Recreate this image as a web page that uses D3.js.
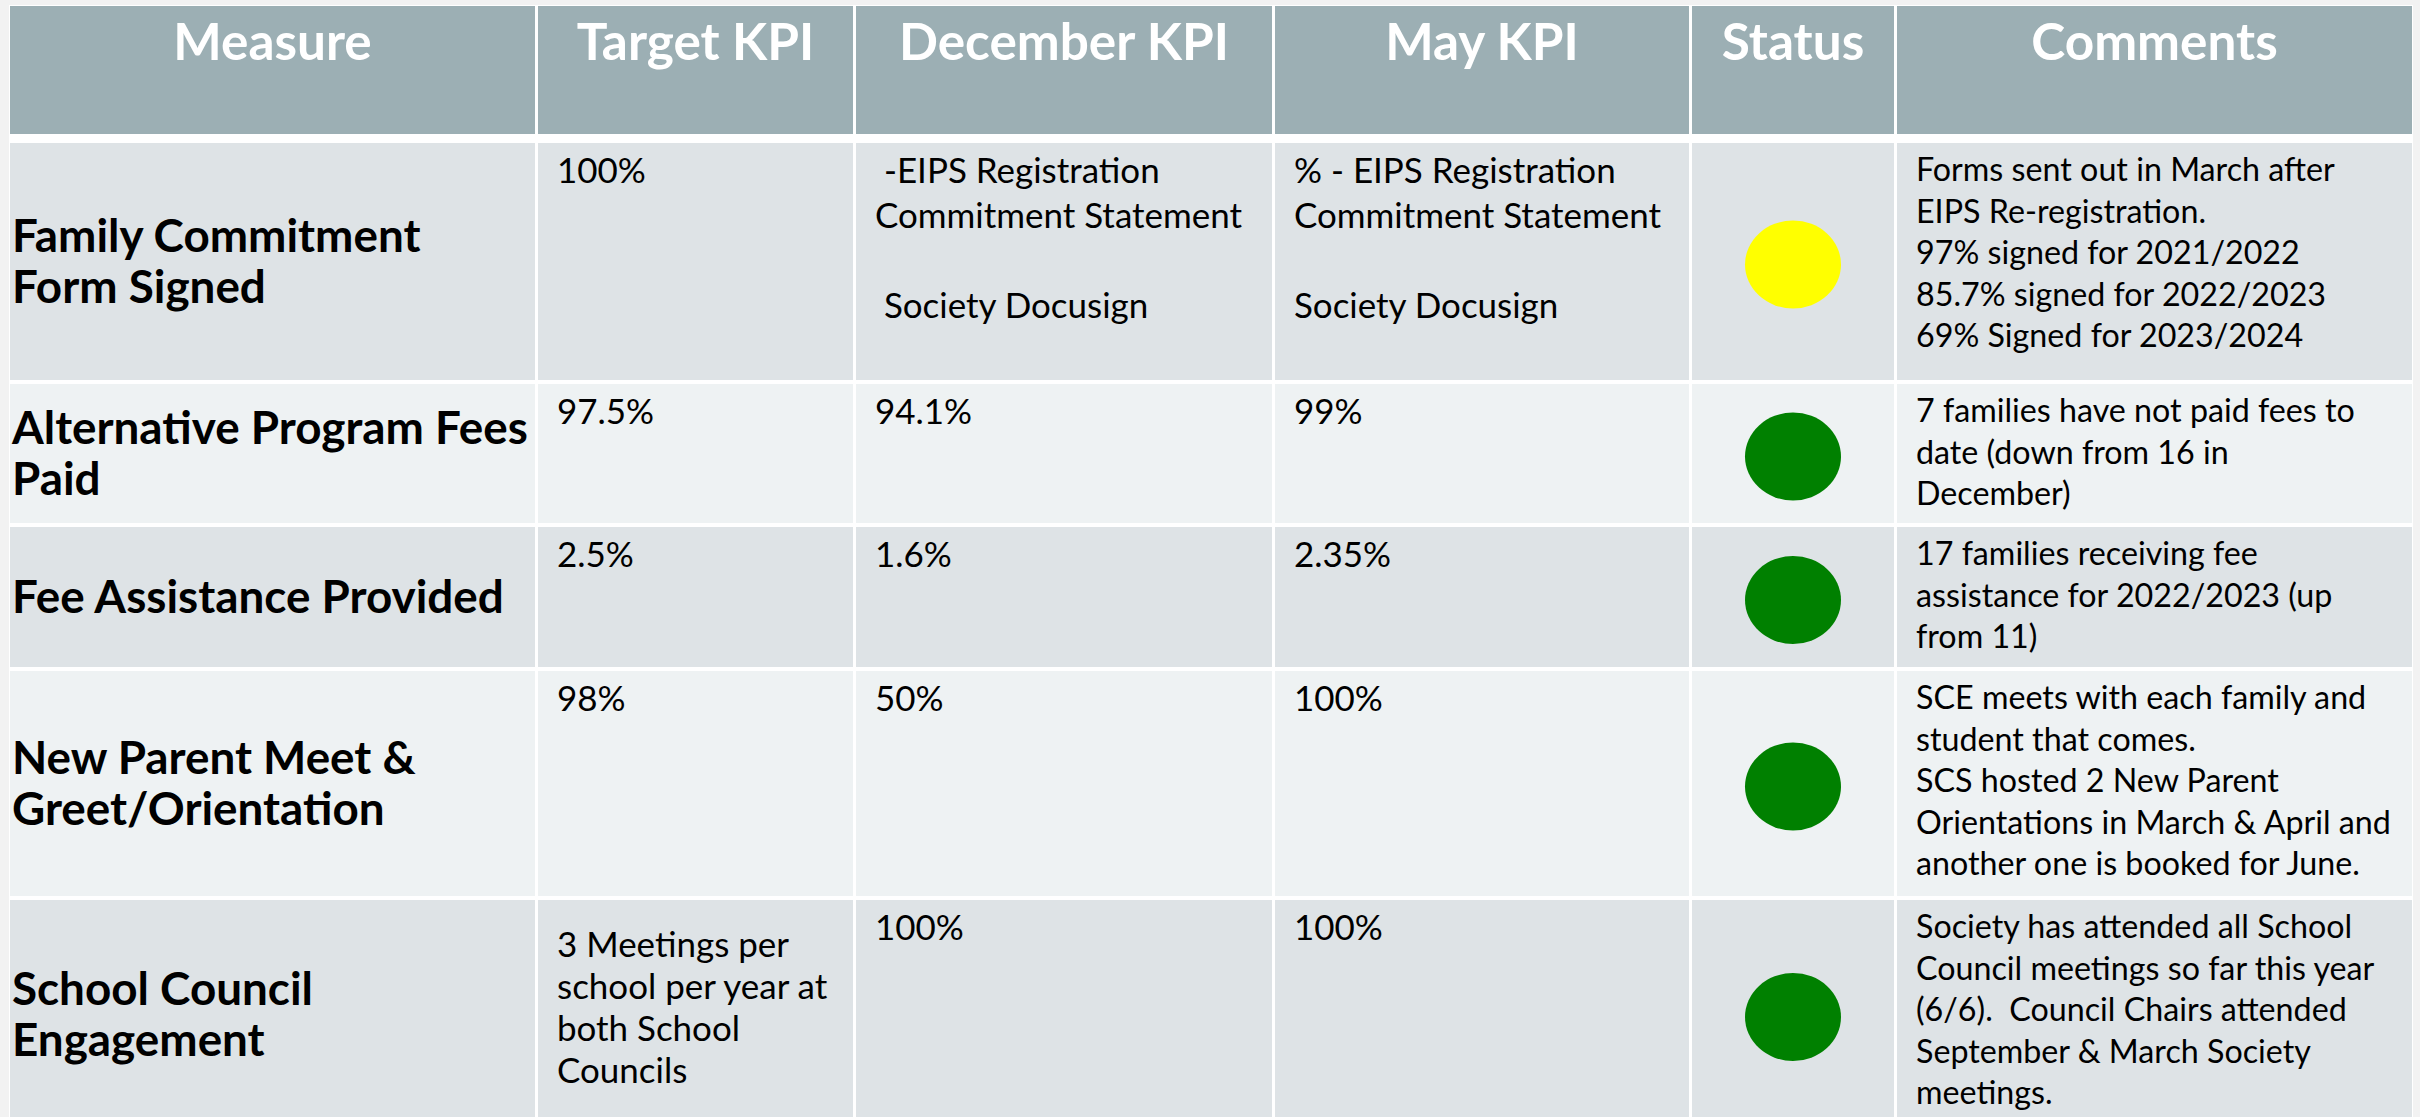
<!DOCTYPE html>
<html>
<head>
<meta charset="utf-8">
<script src="https://cdn.jsdelivr.net/npm/d3@7/dist/d3.min.js"></script>
<style>
  body { margin: 0; background: #f2f2f2; overflow: hidden; }
  text { font-family: Lato, "Open Sans", sans-serif; white-space: pre; }
</style>
</head>
<body>
<div id="main"></div>
<script>
// ---- table content ----
const columns = ["Measure", "Target KPI", "December KPI", "May KPI", "Status", "Comments"];

const measures = [
  "Family Commitment\nForm Signed",
  "Alternative Program Fees\nPaid",
  "Fee Assistance Provided",
  "New Parent Meet &\nGreet/Orientation",
  "School Council\nEngagement"
];

const targetKPI = [
  "100%",
  "97.5%",
  "2.5%",
  "98%",
  "3 Meetings per\nschool per year at\nboth School\nCouncils"
];

const decemberKPI = [
  " -EIPS Registration\nCommitment Statement\n\n Society Docusign",
  "94.1%",
  "1.6%",
  "50%",
  "100%"
];

const mayKPI = [
  "% - EIPS Registration\nCommitment Statement\n\nSociety Docusign",
  "99%",
  "2.35%",
  "100%",
  "100%"
];

const statusLevel = ["caution", "on track", "on track", "on track", "on track"];

const comments = [
  "Forms sent out in March after\nEIPS Re-registration.\n97% signed for 2021/2022\n85.7% signed for 2022/2023\n69% Signed for 2023/2024",
  "7 families have not paid fees to\ndate (down from 16 in\nDecember)",
  "17 families receiving fee\nassistance for 2022/2023 (up\nfrom 11)",
  "SCE meets with each family and\nstudent that comes.\nSCS hosted 2 New Parent\nOrientations in March & April and\nanother one is booked for June.",
  "Society has attended all School\nCouncil meetings so far this year\n(6/6).  Council Chairs attended\nSeptember & March Society\nmeetings."
];

function main() {
  const svgWidth = 2420;
  const svgHeight = 1117;

  // layout (pixels)
  const colStarts = [10, 538, 856, 1275, 1692, 1897];
  const tableRight = 2412;
  const headerTop = 6, headerBottom = 134;
  const rowStarts = [143, 384, 527, 671, 900];
  const tableBottom = 1128;
  const gap = 3;
  const padLeft = 19;

  const headerFill = "#9cafb4";
  const rowFills = ["#dee3e6", "#eef2f3"];
  const statusColor = d3.scaleOrdinal().domain(["caution", "on track"]).range(["#ffff00", "#008000"]);

  const svg = d3.select("#main").append("svg")
    .attr("width", svgWidth)
    .attr("height", svgHeight);

  svg.append("rect").attr("width", svgWidth).attr("height", svgHeight).attr("fill", "#f2f2f2");
  // white grid behind the cells
  svg.append("rect")
    .attr("x", colStarts[0] - 1).attr("y", headerTop - 1)
    .attr("width", tableRight - colStarts[0] + 2).attr("height", tableBottom - headerTop)
    .attr("fill", "#ffffff");

  // measure a string and return the font size that gives the wanted width
  function fitSize(str, weight, targetWidth) {
    const t = svg.append("text").attr("font-size", 100).attr("font-weight", weight).text(str);
    const w = t.node().getComputedTextLength();
    t.remove();
    return 100 * targetWidth / w;
  }
  const headSize = fitSize("December KPI", 700, 330);
  const measureSize = fitSize("Alternative Program Fees", 700, 516);
  const bodySize = fitSize("Commitment Statement", 400, 367);
  const commentSize = fitSize("Orientations in March & April and", 400, 475);

  const colIdx = d3.range(columns.length);
  const xStart = d3.scaleOrdinal().domain(colIdx).range(colStarts);
  const xEnd = d3.scaleOrdinal().domain(colIdx).range(colStarts.slice(1).map(d => d - gap).concat([tableRight]));

  const rowIdx = d3.range(measures.length);
  const yStart = d3.scaleOrdinal().domain(rowIdx).range(rowStarts);
  const yEnd = d3.scaleOrdinal().domain(rowIdx).range(rowStarts.slice(1).map(d => d - 4).concat([tableBottom]));

  // ------------ HEADER ------------
  const head = svg.append("g").attr("id", "header");
  head.selectAll("rect")
    .data(colIdx)
    .enter()
    .append("rect")
    .attr("x", d => xStart(d))
    .attr("y", headerTop)
    .attr("width", d => xEnd(d) - xStart(d))
    .attr("height", headerBottom - headerTop)
    .attr("fill", headerFill);
  head.selectAll("text")
    .data(colIdx)
    .enter()
    .append("text")
    .attr("x", d => (xStart(d) + xEnd(d)) / 2)
    .attr("y", 60)
    .attr("text-anchor", "middle")
    .attr("font-size", headSize)
    .attr("font-weight", 700)
    .attr("fill", "#ffffff")
    .text(d => columns[d]);

  // ------------ BODY CELLS ------------
  const cells = [];
  rowIdx.forEach(r => colIdx.forEach(c => cells.push({ r, c })));

  svg.append("g").attr("id", "cells")
    .selectAll("rect")
    .data(cells)
    .enter()
    .append("rect")
    .attr("x", d => xStart(d.c))
    .attr("y", d => yStart(d.r))
    .attr("width", d => xEnd(d.c) - xStart(d.c))
    .attr("height", d => yEnd(d.r) - yStart(d.r))
    .attr("fill", d => rowFills[d.r % 2]);

  // multi-line text helper
  function writeLines(g, str, x, y0, lh, size, weight) {
    const t = g.append("text")
      .attr("font-size", size)
      .attr("font-weight", weight)
      .attr("fill", "#000000");
    str.split("\n").forEach((line, i) => {
      t.append("tspan").attr("x", x).attr("y", y0 + i * lh).text(line);
    });
  }

  const txt = svg.append("g").attr("id", "texts");

  // measure column: bold, vertically centred
  measures.forEach((m, r) => {
    const n = m.split("\n").length;
    const lh = 51;
    const mid = (yStart(r) + yEnd(r)) / 2;
    writeLines(txt, m, colStarts[0] + 2, mid - (n - 1) * lh / 2 + measureSize * 0.36, lh, measureSize, 700);
  });

  // top aligned columns
  const topOffset = 40;
  targetKPI.forEach((s, r) => {
    const shift = s.split("\n").length > 1 ? 17 : 0; // multi-line target sits lower
    writeLines(txt, s, xStart(1) + padLeft, yStart(r) + topOffset + shift, 42, bodySize, 400);
  });
  decemberKPI.forEach((s, r) => writeLines(txt, s, xStart(2) + padLeft, yStart(r) + topOffset, 45, bodySize, 400));
  mayKPI.forEach((s, r) => writeLines(txt, s, xStart(3) + padLeft, yStart(r) + topOffset, 45, bodySize, 400));
  comments.forEach((s, r) => writeLines(txt, s, xStart(5) + padLeft, yStart(r) + 38, 41.5, commentSize, 400));

  // ------------ STATUS DOTS ------------
  svg.append("g").attr("id", "status")
    .selectAll("ellipse")
    .data(statusLevel)
    .enter()
    .append("ellipse")
    .attr("cx", (xStart(4) + xEnd(4)) / 2)
    .attr("cy", (d, r) => (yStart(r) + yEnd(r)) / 2 + 3)
    .attr("rx", 48)
    .attr("ry", 44)
    .attr("fill", d => statusColor(d));
}

main();
</script>
</body>
</html>
